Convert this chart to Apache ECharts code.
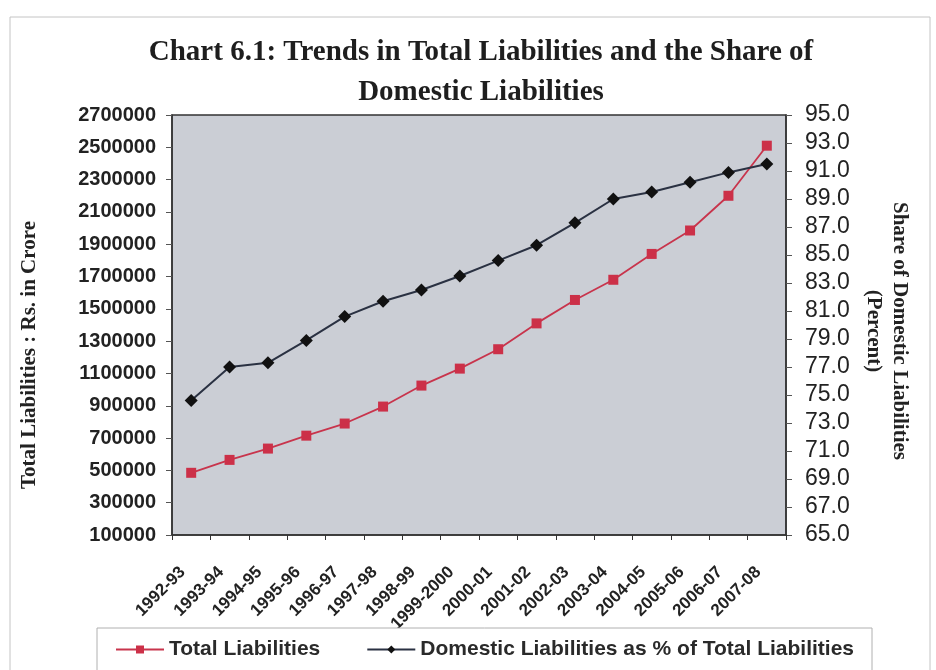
<!DOCTYPE html>
<html>
<head>
<meta charset="utf-8">
<script src="https://cdn.jsdelivr.net/npm/echarts@6/dist/echarts.min.js"></script>
<style>
html,body{margin:0;padding:0;background:#ffffff;}
#chart{width:936px;height:670px;}
</style>
</head>
<body>
<div id="chart"></div>
<script>
var categories = ['1992-93','1993-94','1994-95','1995-96','1996-97','1997-98','1998-99','1999-2000','2000-01','2001-02','2002-03','2003-04','2004-05','2005-06','2006-07','2007-08'];
var totalLiabilities = [485000, 565000, 635000, 715000, 790000, 895000, 1025000, 1130000, 1250000, 1410000, 1555000, 1680000, 1840000, 1985000, 2200000, 2510000];
var domesticShare = [74.6, 77.0, 77.3, 78.9, 80.6, 81.7, 82.5, 83.5, 84.6, 85.7, 87.3, 89.0, 89.5, 90.2, 90.9, 91.5];
var leftTicks = [100000, 300000, 500000, 700000, 900000, 1100000, 1300000, 1500000, 1700000, 1900000, 2100000, 2300000, 2500000, 2700000];
var rightTicks = [65, 67, 69, 71, 73, 75, 77, 79, 81, 83, 85, 87, 89, 91, 93, 95];

var chart = echarts.init(document.getElementById('chart'), null, {renderer: 'canvas'});
var serif = '"Liberation Serif", "Times New Roman", serif';
var sans = '"Liberation Sans", Arial, sans-serif';

var option = {
  backgroundColor: '#ffffff',
  animation: false,
  title: {
    text: 'Chart 6.1: Trends in Total Liabilities and the Share of\nDomestic Liabilities',
    left: 476,
    textAlign: 'center',
    top: 28,
    textStyle: {fontFamily: serif, fontWeight: 'bold', fontSize: 29, lineHeight: 40, color: '#1e1e1e'}
  },
  graphic: [
    {type: 'rect', shape: {x: 10, y: 17, width: 920, height: 700}, style: {fill: 'none', stroke: '#c4c4c4', lineWidth: 1}, z: -1}
  ],
  grid: {
    left: 172, right: 150, top: 115, bottom: 135,
    show: true, backgroundColor: '#cbced5', borderColor: '#333333', borderWidth: 1.5
  },
  legend: {
    left: 97, top: 628,
    padding: [11, 18, 40, 18],
    borderColor: '#b0b0b0', borderWidth: 1, backgroundColor: '#ffffff',
    itemWidth: 48, itemHeight: 10, itemGap: 46,
    textStyle: {fontFamily: sans, fontWeight: 'bold', fontSize: 21, color: '#2a2a2a'},
    data: ['Total Liabilities', 'Domestic Liabilities as % of Total Liabilities']
  },
  xAxis: {
    type: 'category',
    data: categories,
    boundaryGap: true,
    axisLine: {show: true, lineStyle: {color: '#333333', width: 1.5}},
    axisTick: {show: true, length: 5, lineStyle: {color: '#333333'}},
    axisLabel: {rotate: 45, margin: 26, interval: 0, padding: [0, 12, 0, 0], fontFamily: sans, fontWeight: 'bold', fontSize: 17, color: '#222222'}
  },
  yAxis: [
    {
      type: 'value', position: 'left',
      min: 100000, max: 2700000,
      name: 'Total Liabilities : Rs. in Crore',
      nameLocation: 'middle', nameRotate: 90, nameGap: 132,
      nameTextStyle: {fontFamily: serif, fontWeight: 'bold', fontSize: 21, color: '#222222', padding: [0, 60, 0, 0]},
      axisLine: {show: true, lineStyle: {color: '#333333', width: 1.5}},
      axisTick: {show: true, length: 6, customValues: leftTicks, lineStyle: {color: '#555555'}},
      axisLabel: {customValues: leftTicks, margin: 16, fontFamily: sans, fontWeight: 'bold', fontSize: 20, color: '#222222',
        formatter: function (v) { return String(v); }},
      splitLine: {show: false}
    },
    {
      type: 'value', position: 'right',
      min: 65, max: 95,
      name: 'Share of Domestic Liabilities\n(Percent)',
      nameLocation: 'middle', nameRotate: -90, nameGap: 74,
      nameTextStyle: {fontFamily: serif, fontWeight: 'bold', fontSize: 21, lineHeight: 26, color: '#222222', align: 'center', padding: [0, 0, 0, 12]},
      axisLine: {show: true, lineStyle: {color: '#333333', width: 1.5}},
      axisTick: {show: true, length: 6, customValues: rightTicks, lineStyle: {color: '#555555'}},
      axisLabel: {customValues: rightTicks, margin: 19, fontFamily: sans, fontSize: 23, color: '#222222',
        formatter: function (v) { return v.toFixed(1); }},
      splitLine: {show: false}
    }
  ],
  series: [
    {
      name: 'Total Liabilities', type: 'line', yAxisIndex: 0,
      data: totalLiabilities,
      symbol: 'rect', symbolSize: 10,
      lineStyle: {color: '#c8344c', width: 1.8},
      itemStyle: {color: '#cc3048'}
    },
    {
      name: 'Domestic Liabilities as % of Total Liabilities', type: 'line', yAxisIndex: 1,
      data: domesticShare,
      symbol: 'diamond', symbolSize: 13,
      lineStyle: {color: '#2a3142', width: 2},
      itemStyle: {color: '#111111'}
    }
  ]
};
chart.setOption(option);
</script>
</body>
</html>
